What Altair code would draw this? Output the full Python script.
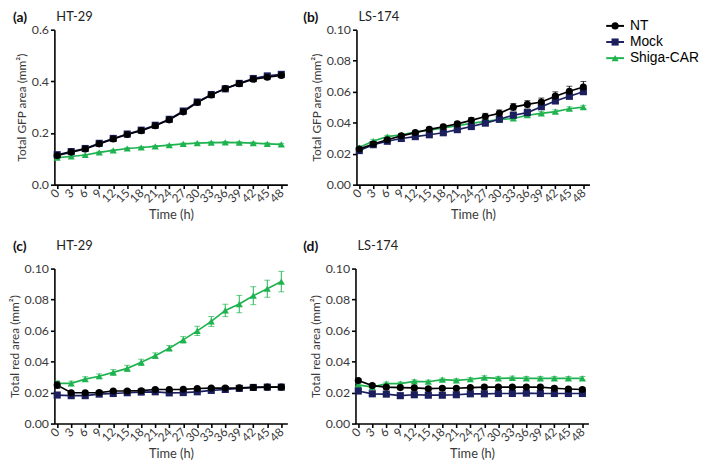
import altair as alt
import pandas as pd

hours = list(range(0, 49, 3))
series = ["NT", "Mock", "Shiga-CAR"]
colors = ["#000000", "#1b1f5e", "#1fb350"]
shapes = ["circle", "square", "triangle-up"]
draw_order = ["Shiga-CAR", "Mock", "NT"]

# (a) HT-29, Total GFP area
a_nt = [0.113, 0.126, 0.138, 0.158, 0.177, 0.194, 0.209, 0.228, 0.251, 0.282, 0.318, 0.347, 0.372, 0.391, 0.408, 0.416, 0.423]
a_mock = [0.116, 0.128, 0.140, 0.160, 0.179, 0.196, 0.211, 0.230, 0.253, 0.285, 0.320, 0.349, 0.371, 0.392, 0.411, 0.421, 0.427]
a_shiga = [0.105, 0.109, 0.115, 0.125, 0.133, 0.140, 0.144, 0.148, 0.153, 0.158, 0.161, 0.163, 0.164, 0.163, 0.161, 0.158, 0.156]
a_nt_err = [0.003, 0.003, 0.003, 0.003, 0.003, 0.004, 0.004, 0.004, 0.004, 0.005, 0.005, 0.005, 0.005, 0.005, 0.006, 0.006, 0.006]
a_mock_err = [0.003, 0.003, 0.003, 0.003, 0.003, 0.003, 0.004, 0.004, 0.004, 0.004, 0.005, 0.005, 0.005, 0.005, 0.005, 0.005, 0.005]
a_shiga_err = [0.002, 0.002, 0.002, 0.002, 0.002, 0.003, 0.003, 0.003, 0.003, 0.003, 0.003, 0.003, 0.003, 0.003, 0.004, 0.004, 0.004]

# (b) LS-174, Total GFP area
b_nt = [0.023, 0.0262, 0.029, 0.0315, 0.0336, 0.0357, 0.0374, 0.0392, 0.0415, 0.0440, 0.0460, 0.0500, 0.0518, 0.0533, 0.0571, 0.0603, 0.0630]
b_mock = [0.022, 0.0258, 0.028, 0.0298, 0.0310, 0.0322, 0.0335, 0.0355, 0.0375, 0.0397, 0.0422, 0.0448, 0.0465, 0.0503, 0.0540, 0.0570, 0.0600]
b_shiga = [0.024, 0.0282, 0.0310, 0.0322, 0.0340, 0.0352, 0.0366, 0.0380, 0.0395, 0.0408, 0.0420, 0.0427, 0.0448, 0.0460, 0.0471, 0.0490, 0.0500]
b_nt_err = [0.0010, 0.0012, 0.0012, 0.0013, 0.0013, 0.0014, 0.0015, 0.0016, 0.0018, 0.0020, 0.0022, 0.0024, 0.0024, 0.0026, 0.0028, 0.0032, 0.0036]
b_mock_err = [0.0008, 0.0008, 0.0008, 0.0008, 0.0009, 0.0009, 0.0009, 0.0010, 0.0010, 0.0011, 0.0011, 0.0012, 0.0012, 0.0013, 0.0013, 0.0014, 0.0015]
b_shiga_err = [0.0008, 0.0008, 0.0008, 0.0008, 0.0008, 0.0009, 0.0009, 0.0009, 0.0010, 0.0010, 0.0010, 0.0010, 0.0011, 0.0011, 0.0012, 0.0012, 0.0012]

# (c) HT-29, Total red area
c_nt = [0.0248, 0.0199, 0.0199, 0.0200, 0.0210, 0.0210, 0.0212, 0.0220, 0.0220, 0.0221, 0.0226, 0.0229, 0.0229, 0.0230, 0.0233, 0.0235, 0.0235]
c_mock = [0.0184, 0.0180, 0.0180, 0.0190, 0.0194, 0.0199, 0.0203, 0.0205, 0.0198, 0.0200, 0.0205, 0.0214, 0.0220, 0.0227, 0.0233, 0.0235, 0.0235]
c_shiga = [0.0259, 0.0259, 0.0287, 0.0305, 0.0330, 0.0356, 0.0395, 0.0438, 0.0486, 0.0540, 0.0598, 0.0659, 0.0730, 0.0771, 0.0825, 0.0870, 0.0916]
c_nt_err = [0.0022, 0.0010, 0.0008, 0.0008, 0.0008, 0.0008, 0.0008, 0.0008, 0.0008, 0.0008, 0.0008, 0.0008, 0.0008, 0.0008, 0.0008, 0.0008, 0.0008]
c_mock_err = [0.0008, 0.0006, 0.0006, 0.0006, 0.0006, 0.0006, 0.0006, 0.0006, 0.0006, 0.0006, 0.0006, 0.0006, 0.0006, 0.0006, 0.0006, 0.0006, 0.0006]
c_shiga_err = [0.0016, 0.0015, 0.0015, 0.0015, 0.0018, 0.0020, 0.0020, 0.0018, 0.0018, 0.0021, 0.0030, 0.0032, 0.0040, 0.0056, 0.0058, 0.0055, 0.0066]

# (d) LS-174, Total red area
d_nt = [0.0278, 0.0245, 0.0235, 0.0232, 0.0230, 0.0225, 0.0228, 0.0228, 0.0232, 0.0235, 0.0235, 0.0235, 0.0236, 0.0235, 0.0228, 0.0223, 0.0220]
d_mock = [0.0210, 0.0192, 0.0190, 0.0180, 0.0186, 0.0183, 0.0183, 0.0186, 0.0192, 0.0192, 0.0194, 0.0194, 0.0196, 0.0194, 0.0194, 0.0194, 0.0194]
d_shiga = [0.0250, 0.0235, 0.0258, 0.0258, 0.0272, 0.0270, 0.0283, 0.0279, 0.0286, 0.0296, 0.0292, 0.0294, 0.0292, 0.0292, 0.0292, 0.0292, 0.0292]
d_nt_err = [0.0012, 0.0010, 0.0010, 0.0010, 0.0010, 0.0010, 0.0010, 0.0010, 0.0010, 0.0012, 0.0012, 0.0012, 0.0012, 0.0012, 0.0012, 0.0012, 0.0012]
d_mock_err = [0.0008, 0.0008, 0.0008, 0.0008, 0.0008, 0.0008, 0.0008, 0.0008, 0.0008, 0.0008, 0.0008, 0.0008, 0.0008, 0.0008, 0.0008, 0.0008, 0.0008]
d_shiga_err = [0.0010, 0.0010, 0.0010, 0.0010, 0.0010, 0.0010, 0.0010, 0.0010, 0.0010, 0.0012, 0.0012, 0.0012, 0.0012, 0.0012, 0.0012, 0.0012, 0.0012]

y_ticks_a = [0.0, 0.2, 0.4, 0.6]
y_ticks_other = [0.0, 0.02, 0.04, 0.06, 0.08, 0.10]

FONT = "Lato"
TXT = "#3a3a3a"
W, H = 236, 157


def panel(letter, cell, ytitle, ymax, yticks, yfmt, vals, errs, letter_x, label_y):
    by_series = {s: (v, e) for s, v, e in zip(series, vals, errs)}
    rows = []
    for k, s in enumerate(draw_order):
        v_list, e_list = by_series[s]
        for t, v, e in zip(hours, v_list, e_list):
            rows.append({"t": t, "series": s, "ord": k, "v": v, "lo": v - e, "hi": v + e})
    df = pd.DataFrame(rows)
    base = alt.Chart(df)
    xs = alt.X("t:Q", scale=alt.Scale(domain=[-0.6, 49.3], nice=False, zero=False),
               axis=alt.Axis(values=hours, title="Time (h)", labelAngle=-45,
                             labelAlign="right", labelBaseline="middle",
                             labelOverlap=False, labelFontSize=12))
    yscale = alt.Scale(domain=[0, ymax], nice=False)
    yaxis = alt.Axis(values=yticks, format=yfmt, title=ytitle)
    color = alt.Color("series:N", scale=alt.Scale(domain=series, range=colors), legend=None)
    err = base.mark_errorbar(ticks={"size": 6}, thickness=1).encode(
        x=xs, y=alt.Y("lo:Q", scale=yscale, axis=yaxis, title=ytitle), y2="hi:Q", color=color)
    line = base.mark_line(strokeWidth=1.7).encode(
        x=xs, y=alt.Y("v:Q", scale=yscale, axis=yaxis, title=ytitle), color=color,
        detail="series:N", order=alt.Order("t:Q"))
    pts = base.mark_point(filled=True, size=52, opacity=1).encode(
        x=xs, y=alt.Y("v:Q", scale=yscale, axis=yaxis, title=ytitle), color=color,
        shape=alt.Shape("series:N", scale=alt.Scale(domain=series, range=shapes), legend=None),
        order=alt.Order("ord:Q"))
    lab = alt.Chart(pd.DataFrame({"label": [letter]})).mark_text(
        align="left", baseline="middle", fontSize=14, fontWeight="bold", font=FONT, color="#111"
    ).encode(x=alt.value(letter_x), y=alt.value(label_y), text="label:N")
    name = alt.Chart(pd.DataFrame({"label": [cell]})).mark_text(
        align="left", baseline="middle", fontSize=13, font=FONT, color="#222"
    ).encode(x=alt.value(2), y=alt.value(label_y - 1), text="label:N")
    return alt.layer(err, line, pts, lab, name).properties(width=W, height=H)


pa = panel("(a)", "HT-29", "Total GFP area (mm²)", 0.6, y_ticks_a, ".1f",
           [a_nt, a_mock, a_shiga], [a_nt_err, a_mock_err, a_shiga_err], -42, -12)
pb = panel("(b)", "LS-174", "Total GFP area (mm²)", 0.10, y_ticks_other, ".2f",
           [b_nt, b_mock, b_shiga], [b_nt_err, b_mock_err, b_shiga_err], -54, -12)
pc = panel("(c)", "HT-29", "Total red area (mm²)", 0.10, y_ticks_other, ".2f",
           [c_nt, c_mock, c_shiga], [c_nt_err, c_mock_err, c_shiga_err], -42, -22)
pd_ = panel("(d)", "LS-174", "Total red area (mm²)", 0.10, y_ticks_other, ".2f",
            [d_nt, d_mock, d_shiga], [d_nt_err, d_mock_err, d_shiga_err], -53, -22)

leg_df = pd.DataFrame({"series": series})
leg_y = alt.Y("series:N", sort=series, axis=None,
              scale=alt.Scale(type="point", domain=series, range=[-12, 37]))
leg_color = alt.Color("series:N", scale=alt.Scale(domain=series, range=colors), legend=None)
leg_base = alt.Chart(leg_df)
leg_rule = leg_base.mark_rule(strokeWidth=2).encode(
    x=alt.value(0), x2=alt.value(18), y=leg_y, color=leg_color)
leg_pt = leg_base.mark_point(filled=True, size=52, opacity=1).encode(
    x=alt.value(9), y=leg_y, color=leg_color,
    shape=alt.Shape("series:N", scale=alt.Scale(domain=series, range=shapes), legend=None))
leg_txt = leg_base.mark_text(align="left", baseline="middle", fontSize=14,
                             font="Liberation Sans", color="#000").encode(
    x=alt.value(24), y=leg_y, text="series:N")
legend = alt.layer(leg_rule, leg_pt, leg_txt).properties(width=80, height=20)

row1 = alt.hconcat(pa, pb, legend, spacing=16)
row2 = alt.hconcat(pc, pd_, spacing=16)

chart = alt.vconcat(row1, row2, spacing=18).properties(padding=0).configure_view(
    stroke=None
).configure_axis(
    grid=False, domainColor="#000", domainWidth=1.6, tickColor="#000", tickWidth=1.6,
    tickSize=4, labelFont=FONT, labelFontSize=12.5, labelColor=TXT, titleFont=FONT,
    titleFontSize=12, titleFontWeight="normal", titleColor=TXT, labelPadding=2,
    titlePadding=3
).configure_axisX(titleFontSize=13, titlePadding=4)

chart.save("out.html", embed_options={"renderer": "svg", "actions": False})
